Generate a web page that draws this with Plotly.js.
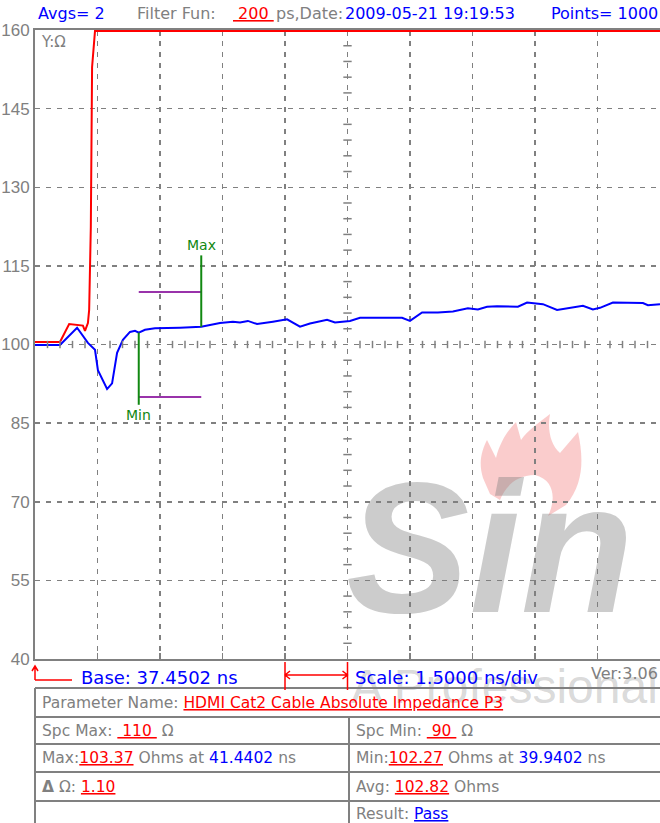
<!DOCTYPE html>
<html>
<head>
<meta charset="utf-8">
<script src="https://cdn.plot.ly/plotly-3.0.1.min.js"></script>
<style>body{margin:0;background:#fff}</style>
</head>
<body>
<div id="tdr-plot"></div>
<script>
// TDR impedance trace
const base = 37.4502;      // ns at left edge
const scaleNs = 1.5;       // ns per division
const nDivs = 10;
const yTicks = [40, 55, 70, 85, 100, 115, 130, 145, 160];

const blueTime = [37.45, 38.05, 38.46, 38.72, 38.89, 38.96, 39.18, 39.30, 39.42, 39.56, 39.73, 39.85, 39.94,
    40.09, 40.33, 40.69, 40.93, 41.44, 41.89, 42.20, 42.37, 42.56, 42.78, 43.16, 43.50, 43.81, 44.05, 44.46,
    44.65, 45.01, 45.25, 46.26, 46.45, 46.74, 47.12, 47.48, 47.84, 48.08, 48.30, 48.54, 49.04, 49.26, 49.64,
    49.98, 50.46, 50.60, 50.84, 51.01, 51.32, 52.04, 52.16, 52.45];
const blueOhm = [99.9, 99.9, 103.2, 100.3, 99.0, 95.1, 91.5, 92.6, 98.4, 100.9, 102.4, 102.6, 102.27,
    102.8, 103.1, 103.1, 103.2, 103.37, 104.1, 104.35, 104.2, 104.5, 103.9, 104.35, 104.8, 103.4, 104.0, 104.7,
    104.2, 104.5, 105.1, 105.1, 104.5, 106.1, 106.1, 106.3, 106.9, 106.7, 107.2, 107.3, 107.2, 108.0, 107.7,
    106.6, 107.2, 107.4, 106.7, 107.0, 108.0, 107.9, 107.5, 107.7];

const redTime = [37.45, 38.05, 38.27, 38.45, 38.60, 38.65, 38.72, 38.75, 38.79, 38.82, 38.89, 52.45];
const redOhm = [100.5, 100.5, 103.9, 103.8, 103.6, 102.6, 104.1, 106.6, 122.4, 152.9, 159.8, 159.8];

const spcMax = 110, spcMin = 90;
const maxOhm = 103.37, maxAt = 41.4402;
const minOhm = 102.27, minAt = 39.9402;
const avgOhm = 102.82, deltaOhm = '1.10';
const avgs = 2, filterPs = 200, stamp = '2009-05-21 19:19:53', points = 1000, version = '3.06';
const paramName = 'HDMI Cat2 Cable Absolute Impedance P3';
const result = 'Pass';

const GRAY = '#808080', BLUE = '#0000ff', RED = '#ff0000', GREEN = '#118811', PURPLE = '#9933aa';
const FONT = 'DejaVu Sans';

// plot area in pixels
const PL = 35, PT = 30, PW = 625, PH = 629;
const fx = p => (p - PL) / PW;
const fy = p => (PT + PH - p) / PH;

function note(text, x, y, size, color, anchor, extra) {
    return Object.assign({
        xref: 'paper', yref: 'paper', x: fx(x), y: fy(y), text: text, showarrow: false,
        xanchor: anchor || 'left', yanchor: 'middle',
        font: {family: FONT, size: size, color: color}
    }, extra || {});
}
const redU = t => '<span style="color:' + RED + '"><u>' + t + '</u></span>';
const blue = t => '<span style="color:' + BLUE + '">' + t + '</span>';
const nb = '\u00a0';

var data = [
    {x: redTime, y: redOhm, mode: 'lines', line: {color: RED, width: 2}},
    {x: blueTime, y: blueOhm, mode: 'lines', line: {color: BLUE, width: 2}},
    // spec lines between min and max positions
    {x: [minAt, maxAt], y: [spcMax, spcMax], mode: 'lines', line: {color: PURPLE, width: 2}},
    {x: [minAt, maxAt], y: [spcMin, spcMin], mode: 'lines', line: {color: PURPLE, width: 2}},
    {x: [maxAt, maxAt], y: [maxOhm, 117], mode: 'lines', line: {color: GREEN, width: 2}},
    {x: [minAt, minAt], y: [minOhm, 88.5], mode: 'lines', line: {color: GREEN, width: 2}}
];

var shapes = [];
// small ticks on the centre cross
const xc = base + scaleNs * nDivs / 2;
for (let k = 1; k < nDivs * 5; k++) {
    if (k % 5 === 0) continue;
    let x = base + k * scaleNs / 5;
    shapes.push({type: 'line', xref: 'x', yref: 'y', x0: x, x1: x, y0: 99.3, y1: 100.7,
        line: {color: GRAY, width: 1.5}});
}
for (let k = 1; k < 40; k++) {
    if (k % 5 === 0) continue;
    let y = 40 + k * 3;
    shapes.push({type: 'line', xref: 'x', yref: 'y', x0: xc - 0.1, x1: xc + 0.1, y0: y, y1: y,
        line: {color: GRAY, width: 1.5}});
}
// table grid
[688, 717, 744, 772, 801].forEach(y => {
    shapes.push({type: 'line', xref: 'paper', yref: 'paper', x0: fx(35), x1: fx(660), y0: fy(y), y1: fy(y),
        line: {color: GRAY, width: 2}});
});
shapes.push({type: 'line', xref: 'paper', yref: 'paper', x0: fx(35), x1: fx(35), y0: fy(688), y1: fy(823),
    line: {color: GRAY, width: 2}});
shapes.push({type: 'line', xref: 'paper', yref: 'paper', x0: fx(349), x1: fx(349), y0: fy(717), y1: fy(823),
    line: {color: GRAY, width: 2}});
// base arrow
shapes.push({type: 'path', xref: 'paper', yref: 'paper',
    path: 'M' + fx(35) + ',' + fy(680) + ' L' + fx(35) + ',' + fy(667) +
          ' M' + fx(32) + ',' + fy(671) + ' L' + fx(35) + ',' + fy(666) + ' L' + fx(38) + ',' + fy(671) +
          ' M' + fx(35) + ',' + fy(680) + ' L' + fx(72) + ',' + fy(680),
    line: {color: RED, width: 1.5}});
// scale bracket, one division wide
const s0 = base + 4 * scaleNs, s1 = base + 5 * scaleNs, ah = 0.12;
shapes.push({type: 'path', xref: 'x', yref: 'paper',
    path: 'M' + s0 + ',' + fy(662) + ' L' + s0 + ',' + fy(690) +
          ' M' + s1 + ',' + fy(662) + ' L' + s1 + ',' + fy(690) +
          ' M' + s0 + ',' + fy(675) + ' L' + s1 + ',' + fy(675) +
          ' M' + (s0 + ah) + ',' + fy(671) + ' L' + s0 + ',' + fy(675) + ' L' + (s0 + ah) + ',' + fy(679) +
          ' M' + (s1 - ah) + ',' + fy(671) + ' L' + s1 + ',' + fy(675) + ' L' + (s1 - ah) + ',' + fy(679),
    line: {color: RED, width: 1.5}});
// watermark flame
const flame = [['M', 483, 478], ['C', 478, 462, 482, 450, 487, 440], ['L', 496, 458], ['C', 500, 442, 508, 430, 516, 422],
    ['L', 521, 440], ['C', 528, 430, 540, 422, 550, 414], ['C', 547, 430, 551, 445, 560, 453], ['L', 578, 432],
    ['C', 583, 456, 585, 482, 566, 505], ['L', 548, 516], ['C', 556, 500, 555, 480, 535, 475],
    ['C', 515, 475, 505, 488, 500, 500], ['L', 490, 494], ['Z']];
shapes.push({type: 'path', xref: 'paper', yref: 'paper', layer: 'below',
    path: flame.map(s => s[0] + s.slice(1).map((v, i) => i % 2 === 0 ? fx(v) : fy(v)).reduce((a, v, i) =>
        a + (i % 2 === 0 ? (i ? ' ' : '') + v : ',' + v), '')).join(' '),
    fillcolor: 'rgba(240,110,110,0.35)', line: {width: 0}});

var annotations = [
    // watermark
    note('Sin', 344, 548, 185, 'rgba(128,128,128,0.4)', 'left', {font: {family: 'Liberation Sans', size: 185,
        color: 'rgba(128,128,128,0.4)', weight: 'bold', style: 'italic'}}),
    note('A Professional', 349, 686, 48, 'rgba(128,128,128,0.3)', 'left', {font: {family: 'Liberation Sans',
        size: 48, color: 'rgba(128,128,128,0.3)'}}),
    // header
    note('Avgs= ' + avgs, 36, 14, 16, BLUE),
    note('Filter Fun:', 135, 14, 16, GRAY),
    note('<u>' + nb + filterPs + nb + '</u>', 231, 14, 16, RED),
    note('ps,Date:', 274, 14, 16, GRAY),
    note(stamp, 343, 14, 16, BLUE),
    note('Points= ' + points, 660, 14, 16, BLUE, 'right'),
    note('Y:Ω', 39, 42, 15, GRAY),
    // base / scale line
    note('Base: ' + base.toFixed(4) + ' ns', 79, 677, 18, BLUE),
    note('Scale: ' + scaleNs.toFixed(4) + ' ns/div', 353, 677, 18, BLUE),
    note('Ver:' + version, 660, 673, 16, GRAY, 'right'),
    // marker labels
    {x: maxAt, y: 117, xref: 'x', yref: 'y', text: 'Max', showarrow: false, xanchor: 'center', yanchor: 'bottom',
        font: {family: FONT, size: 14, color: GREEN}},
    {x: minAt, y: 88.5, xref: 'x', yref: 'y', text: 'Min', showarrow: false, xanchor: 'center', yanchor: 'top',
        font: {family: FONT, size: 14, color: GREEN}},
    // table cells
    note('Parameter Name: ' + redU(paramName), 40, 702.5, 15.5, GRAY),
    note('Spc Max: ' + redU(nb + spcMax + nb) + ' Ω', 40, 730.5, 15.5, GRAY),
    note('Spc Min: ' + redU(nb + spcMin + nb) + ' Ω', 354, 730.5, 15.5, GRAY),
    note('Max:' + redU(maxOhm.toFixed(2)) + ' Ohms at ' + blue(maxAt.toFixed(4)) + ' ns', 40, 758, 15.5, GRAY),
    note('Min:' + redU(minOhm.toFixed(2)) + ' Ohms at ' + blue(minAt.toFixed(4)) + ' ns', 354, 758, 15.5, GRAY),
    note('<b>Δ</b> Ω: ' + redU(deltaOhm), 40, 786.5, 15.5, GRAY),
    note('Avg: ' + redU(avgOhm.toFixed(2)) + ' Ohms', 354, 786.5, 15.5, GRAY),
    note('Result: ' + '<span style="color:' + BLUE + '"><u>' + result + '</u></span>', 354, 814, 15.5, GRAY)
];

var layout = {
    width: 660,
    height: 823,
    margin: {l: 35, r: 0, t: 30, b: 164, pad: 0},
    paper_bgcolor: '#ffffff',
    plot_bgcolor: 'rgba(0,0,0,0)',
    showlegend: false,
    hovermode: false,
    xaxis: {
        range: [base, base + nDivs * scaleNs],
        tickmode: 'linear', tick0: base, dtick: scaleNs,
        showticklabels: false,
        ticks: 'inside', ticklen: 6, tickwidth: 1.5, tickcolor: GRAY,
        showgrid: true, gridcolor: GRAY, gridwidth: 1.5, griddash: '5px,6px',
        zeroline: false,
        showline: true, linecolor: GRAY, linewidth: 2, mirror: 'ticks',
        layer: 'below traces'
    },
    yaxis: {
        range: [40, 160],
        tickmode: 'array', tickvals: yTicks, ticktext: yTicks.map(String),
        ticks: '', tickfont: {family: 'Liberation Sans', size: 17, color: GRAY},
        showgrid: true, gridcolor: GRAY, gridwidth: 1.5, griddash: '5px,6px',
        zeroline: false,
        showline: true, linecolor: GRAY, linewidth: 2,
        layer: 'below traces'
    },
    shapes: shapes,
    annotations: annotations
};

Plotly.newPlot('tdr-plot', data, layout, {staticPlot: true, displayModeBar: false});
</script>
</body>
</html>
